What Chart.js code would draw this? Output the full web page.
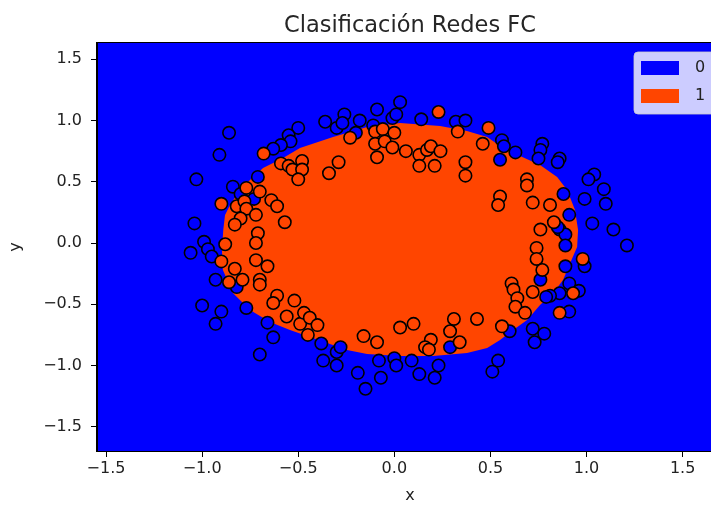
<!DOCTYPE html>
<html>
<head>
<meta charset="utf-8">
<script src="https://cdn.jsdelivr.net/npm/chart.js@4.4.0/dist/chart.umd.min.js"></script>
<style>
  html, body { margin: 0; padding: 0; background: #fff; overflow: hidden; }
  #chartContainer { width: 740px; height: 507px; }
</style>
</head>
<body>
<div id="chartContainer"><canvas id="scatterChart" width="740" height="507"></canvas></div>
<script>
// puntos de clase 0 (azul)
var class0Points = [
  [-0.86,0.90],[-0.91,0.72],[-1.03,0.52],[-0.50,0.94],[-0.55,0.88],[-0.54,0.83],[-0.59,0.80],[-0.63,0.77],
  [-0.71,0.54],[-0.84,0.46],[-0.80,0.40],[-0.73,0.36],[-1.04,0.16],[-0.99,0.01],[-0.97,-0.05],[-1.06,-0.08],
  [-0.95,-0.11],[-0.93,-0.30],[-0.82,-0.36],[-1.00,-0.51],[-0.90,-0.56],[-0.93,-0.66],[-0.77,-0.53],[-0.66,-0.65],
  [-0.63,-0.77],[-0.70,-0.91],[-0.38,-0.82],[-0.37,-0.96],[-0.30,-1.00],[-0.30,-0.89],[-0.28,-0.85],[-0.19,-1.06],
  [-0.15,-1.19],[-0.07,-1.10],[-0.08,-0.96],[0.00,-0.94],[0.01,-1.00],[0.09,-0.96],[0.13,-1.07],[0.21,-1.10],
  [0.23,-1.00],[0.29,-0.85],[0.60,-0.72],[0.54,-0.96],[0.51,-1.05],[0.86,0.11],[0.89,0.07],[0.89,-0.02],
  [1.14,0.11],[1.21,-0.02],[0.89,-0.19],[0.99,-0.19],[0.76,-0.30],[0.91,-0.33],[0.96,-0.39],[0.86,-0.41],
  [0.81,-0.43],[0.79,-0.44],[0.91,-0.56],[0.72,-0.70],[0.78,-0.74],[0.73,-0.81],[-0.36,0.99],[-0.30,0.94],
  [-0.26,1.05],[-0.27,0.98],[-0.18,1.00],[-0.09,1.09],[-0.11,0.96],[-0.01,1.02],[0.03,1.15],[0.01,1.05],
  [-0.20,0.90],[0.14,1.01],[0.32,0.99],[0.37,1.00],[0.56,0.84],[0.57,0.79],[0.63,0.74],[0.55,0.68],
  [0.77,0.81],[0.76,0.76],[0.75,0.69],[0.86,0.69],[0.85,0.66],[1.04,0.56],[1.01,0.52],[1.09,0.44],
  [1.10,0.32],[0.99,0.36],[0.88,0.40],[0.91,0.23],[0.85,0.13],[1.03,0.16]
];

// puntos de clase 1 (naranja)
var class1Points = [
  [-0.68,0.73],[-0.59,0.65],[-0.55,0.63],[-0.53,0.60],[-0.48,0.67],[-0.48,0.60],[-0.50,0.52],[-0.77,0.45],
  [-0.70,0.42],[-0.90,0.32],[-0.82,0.30],[-0.78,0.34],[-0.77,0.28],[-0.64,0.35],[-0.61,0.30],[-0.72,0.23],
  [-0.80,0.20],[-0.83,0.15],[-0.57,0.17],[-0.71,0.08],[-0.72,0.00],[-0.88,-0.01],[-0.90,-0.15],[-0.83,-0.21],
  [-0.72,-0.14],[-0.66,-0.19],[-0.79,-0.30],[-0.86,-0.32],[-0.70,-0.30],[-0.70,-0.34],[-0.61,-0.43],[-0.63,-0.49],
  [-0.52,-0.47],[-0.56,-0.60],[-0.49,-0.66],[-0.47,-0.57],[-0.45,-0.75],[-0.44,-0.61],[-0.40,-0.67],[-0.16,-0.76],
  [-0.09,-0.81],[0.03,-0.69],[0.10,-0.66],[0.19,-0.79],[0.16,-0.85],[0.18,-0.87],[0.31,-0.62],[0.29,-0.72],
  [0.34,-0.81],[0.43,-0.62],[0.56,-0.68],[0.61,-0.33],[0.62,-0.38],[0.64,-0.45],[0.63,-0.52],[0.76,0.11],
  [0.74,-0.04],[0.74,-0.13],[0.77,-0.22],[0.98,-0.13],[0.72,-0.40],[0.68,-0.57],[0.93,-0.41],[0.86,-0.57],
  [-0.23,0.86],[-0.10,0.91],[-0.06,0.93],[0.00,0.90],[-0.10,0.81],[-0.05,0.83],[-0.01,0.78],[-0.09,0.70],
  [0.06,0.75],[-0.34,0.57],[-0.29,0.66],[0.23,1.07],[0.13,0.72],[0.13,0.63],[0.17,0.76],[0.19,0.79],
  [0.24,0.75],[0.21,0.63],[0.33,0.91],[0.49,0.94],[0.46,0.81],[0.37,0.66],[0.37,0.55],[0.55,0.38],
  [0.54,0.31],[0.69,0.52],[0.69,0.47],[0.72,0.33],[0.81,0.31],[0.83,0.17]
];

// frontera de la region predicha como clase 1
var region1Boundary = [
  [-0.897,-0.057],[-0.890,0.106],[-0.881,0.229],[-0.855,0.310],[-0.803,0.433],[-0.751,0.514],[-0.683,0.612],
  [-0.579,0.694],[-0.491,0.776],[-0.319,0.865],[-0.142,0.947],[0.030,0.980],[0.238,0.955],[0.378,0.914],
  [0.483,0.865],[0.550,0.792],[0.654,0.710],[0.758,0.637],[0.847,0.539],[0.899,0.433],[0.940,0.269],
  [0.956,0.106],[0.951,-0.033],[0.915,-0.163],[0.878,-0.302],[0.826,-0.408],[0.758,-0.506],[0.691,-0.629],
  [0.618,-0.710],[0.550,-0.792],[0.483,-0.857],[0.378,-0.898],[0.201,-0.922],[0.030,-0.922],[-0.142,-0.906],
  [-0.246,-0.873],[-0.439,-0.767],[-0.543,-0.710],[-0.647,-0.645],[-0.751,-0.547],[-0.840,-0.408],
  [-0.892,-0.220],[-0.897,-0.057]
];

var xTicks = [-1.5, -1.0, -0.5, 0.0, 0.5, 1.0, 1.5];
var yTicks = [-1.5, -1.0, -0.5, 0.0, 0.5, 1.0, 1.5];
var legendLabels = ['0', '1'];
var classColors = ['#0000ff', '#ff4500'];
var chartTitle = 'Clasificación Redes FC';

function toXY(arr) {
  return arr.map(function (p) { return { x: p[0], y: p[1] }; });
}
function fmt(v) {
  return v.toFixed(1).replace('-', '\u2212');
}

var bgPlugin = {
  id: 'bg',
  beforeDraw: function (chart) {
    var ctx = chart.ctx, a = chart.chartArea;
    ctx.save();
    ctx.fillStyle = '#ffffff';
    ctx.fillRect(0, 0, chart.width, chart.height);
    ctx.fillStyle = classColors[0];
    ctx.fillRect(a.left, a.top, a.right - a.left, a.bottom - a.top);
    ctx.restore();
  }
};

// marco, titulo centrado sobre el area y leyenda dentro del area
var frameLegendPlugin = {
  id: 'frameLegend',
  afterDraw: function (chart) {
    var ctx = chart.ctx, a = chart.chartArea;
    ctx.save();
    ctx.strokeStyle = '#000';
    ctx.lineWidth = 1;
    ctx.strokeRect(Math.round(a.left) - 0.5, Math.round(a.top) - 0.5,
      Math.round(a.right - a.left) + 1, Math.round(a.bottom - a.top) + 1);

    ctx.font = '22.5px "DejaVu Sans"';
    ctx.fillStyle = '#262626';
    ctx.textAlign = 'center';
    ctx.textBaseline = 'middle';
    ctx.fillText(chartTitle, (a.left + a.right) / 2, a.top - 17);

    var left = a.right - 89, top = a.top + 9, w = 82, h = 62, r = 4;
    ctx.beginPath();
    ctx.moveTo(left + r, top);
    ctx.lineTo(left + w - r, top);
    ctx.arcTo(left + w, top, left + w, top + r, r);
    ctx.lineTo(left + w, top + h - r);
    ctx.arcTo(left + w, top + h, left + w - r, top + h, r);
    ctx.lineTo(left + r, top + h);
    ctx.arcTo(left, top + h, left, top + h - r, r);
    ctx.lineTo(left, top + r);
    ctx.arcTo(left, top, left + r, top, r);
    ctx.closePath();
    ctx.fillStyle = 'rgba(255,255,255,0.8)';
    ctx.fill();
    ctx.strokeStyle = 'rgba(204,204,204,0.8)';
    ctx.stroke();

    ctx.font = '16px "DejaVu Sans"';
    ctx.textBaseline = 'middle';
    ctx.textAlign = 'left';
    legendLabels.forEach(function (lab, i) {
      ctx.fillStyle = classColors[i];
      ctx.fillRect(left + 7, top + 9 + i * 28, 38, 14);
      ctx.fillStyle = '#222';
      ctx.fillText(lab, left + 61, top + 16 + i * 28);
    });
    ctx.restore();
  }
};

var ctx = document.getElementById('scatterChart').getContext('2d');
var scatterChart = new Chart(ctx, {
  type: 'scatter',
  data: {
    datasets: [
      {
        label: 'region 1',
        data: toXY(region1Boundary),
        showLine: true,
        fill: 'shape',
        backgroundColor: classColors[1],
        borderColor: classColors[1],
        borderWidth: 0,
        pointRadius: 0,
        tension: 0,
        order: 3
      },
      {
        label: '0',
        data: toXY(class0Points),
        backgroundColor: classColors[0],
        borderColor: '#000',
        borderWidth: 1.6,
        pointRadius: 6.2,
        order: 2
      },
      {
        label: '1',
        data: toXY(class1Points),
        backgroundColor: classColors[1],
        borderColor: '#000',
        borderWidth: 1.6,
        pointRadius: 6.2,
        order: 1
      }
    ]
  },
  options: {
    responsive: false,
    animation: false,
    events: [],
    layout: { padding: { left: 0, right: 17, top: 43, bottom: 0 } },
    plugins: {
      legend: { display: false },
      tooltip: { enabled: false },
      title: { display: false }
    },
    scales: {
      x: {
        type: 'linear',
        min: -1.547,
        max: 1.71,
        afterBuildTicks: function (s) { s.ticks = xTicks.map(function (v) { return { value: v }; }); },
        afterFit: function (s) { s.height = 56; },
        grid: { drawOnChartArea: false, tickLength: 6, tickColor: '#000', tickWidth: 1 },
        border: { display: true, color: '#000', width: 1 },
        ticks: {
          color: '#222',
          padding: 2,
          maxRotation: 0,
          font: { family: 'DejaVu Sans', size: 16 },
          callback: function (v) { return fmt(v); }
        },
        title: {
          display: true,
          text: 'x',
          color: '#222',
          font: { family: 'DejaVu Sans', size: 16 },
          padding: { top: 0, bottom: 2 }
        }
      },
      y: {
        type: 'linear',
        min: -1.698,
        max: 1.633,
        afterBuildTicks: function (s) { s.ticks = yTicks.map(function (v) { return { value: v }; }); },
        afterFit: function (s) { s.width = 97; },
        grid: { drawOnChartArea: false, tickLength: 6, tickColor: '#000', tickWidth: 1 },
        border: { display: true, color: '#000', width: 1 },
        ticks: {
          color: '#222',
          padding: 9,
          font: { family: 'DejaVu Sans', size: 16 },
          callback: function (v) { return fmt(v); }
        },
        title: {
          display: true,
          text: 'y',
          color: '#222',
          font: { family: 'DejaVu Sans', size: 16 },
          padding: { top: 6, bottom: 0 }
        }
      }
    }
  },
  plugins: [bgPlugin, frameLegendPlugin]
});
</script>
</body>
</html>
